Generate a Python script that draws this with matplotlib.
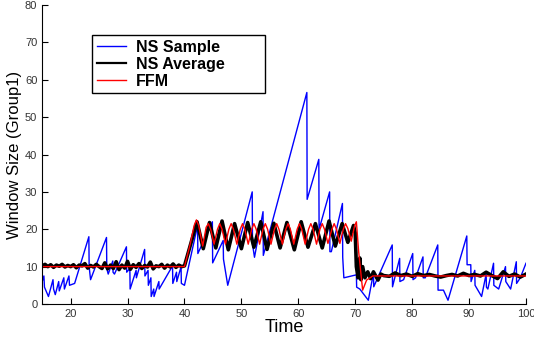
import numpy as np
import matplotlib.pyplot as plt

plt.rcParams['font.family'] = ['Liberation Sans', 'DejaVu Sans']

# NS Sample (sawtooth window), vertices
sample_t = [15.0, 15.3, 15.4, 16.1, 16.9, 17.0, 17.3, 17.9, 18.0, 18.8, 18.9, 19.7, 19.8, 20.7,
            23.2, 23.25, 23.5, 26.3, 26.35, 26.6, 27.4, 27.45, 27.7, 29.8, 29.85, 30.4, 30.45,
            31.5, 31.55, 33.0, 33.05, 33.6, 33.65, 34.1, 34.15, 34.6, 34.65, 35.5, 35.55,
            37.9, 37.95, 38.6, 38.65, 39.4, 39.45, 40.0,
            42.3, 42.35, 44.9, 44.95, 46.8, 46.85, 47.6, 51.9, 51.95, 52.3, 53.8, 53.85,
            61.5, 61.55, 63.6, 63.65, 65.5, 65.55, 65.8, 67.75, 67.8, 68.0, 70.2, 70.25, 70.8,
            72.3, 73.2, 73.25, 76.5, 76.55, 77.8, 77.85, 78.5, 80.1, 80.15, 80.6, 81.9, 81.95,
            82.3, 84.5, 84.55, 85.5, 86.3, 89.6, 89.65, 90.3, 90.35, 91.0, 91.05, 92.2,
            93.0, 93.05, 93.3, 94.3, 94.35, 95.2, 96.4, 96.45, 97.3, 98.3, 98.35, 99.0, 100.0]
sample_w = [6.0, 7.5, 4.5, 2.0, 6.5, 4.0, 2.5, 6.0, 3.5, 7.0, 4.0, 7.5, 5.0, 5.5,
            18.0, 10.0, 6.5, 17.8, 9.5, 8.0, 11.5, 8.5, 8.0, 15.3, 8.5, 9.5, 4.0,
            9.0, 7.0, 14.6, 7.5, 9.0, 5.0, 7.0, 2.0, 4.0, 2.0, 6.0, 4.0,
            10.2, 5.5, 8.5, 6.0, 10.0, 5.5, 5.0,
            21.0, 13.5, 22.0, 11.0, 17.0, 12.0, 5.0, 30.0, 16.0, 12.5, 24.7, 13.0,
            56.6, 28.0, 38.7, 20.0, 30.0, 14.0, 14.0, 26.9, 12.5, 7.0, 7.8, 4.5, 4.0,
            1.0, 8.3, 4.6, 15.8, 4.6, 12.2, 6.0, 6.5, 13.5, 6.5, 7.0, 12.6, 7.0,
            7.0, 15.8, 3.7, 3.7, 1.0, 18.2, 10.5, 10.5, 6.0, 9.0, 5.0, 2.0,
            8.0, 4.5, 4.0, 10.9, 5.0, 4.0, 10.0, 6.0, 4.0, 11.3, 5.5, 7.0, 10.9]

# NS Average
avg_t = [15.0, 15.5, 16.0, 16.5, 17.0, 17.5, 18.0, 18.5, 19.0, 19.5, 20.0, 20.5, 21.0, 21.5,
         22.0, 22.5, 23.0, 23.5, 24.0, 24.5, 25.0, 25.5, 26.0, 26.5, 27.0, 27.5, 28.0, 28.5,
         29.0, 29.5, 30.0, 30.5, 31.0, 31.5, 32.0, 32.5, 33.0, 33.5, 34.0, 34.5, 35.0, 35.5,
         36.0, 36.5, 37.0, 37.5, 38.0, 38.5, 39.0, 39.5, 40.0,
         42.2, 43.3, 44.4, 45.5, 46.6, 47.7, 48.8, 50.0, 51.1, 52.2, 53.4, 54.5, 55.7, 56.8,
         58.0, 59.3, 60.5, 61.7, 63.0, 64.2, 65.4, 66.5, 67.7, 68.7, 69.7, 70.0, 70.2, 70.5,
         70.8, 71.0, 71.3, 71.7, 72.2, 72.7, 73.2, 74.0, 74.5, 75.0, 76.0, 77.0, 78.0, 79.0,
         80.0, 81.0, 82.0, 83.0, 84.0, 85.0, 86.0, 87.0, 88.0, 89.0, 90.0, 91.0, 92.0, 93.0,
         94.0, 95.0, 96.0, 97.0, 98.0, 99.0, 100.0]
avg_w = [10.2, 10.6, 10.0, 10.5, 9.8, 10.4, 10.1, 10.6, 9.9, 10.3, 10.0, 10.5, 9.7, 10.4,
         10.2, 10.8, 9.6, 10.3, 9.9, 10.6, 10.0, 9.5, 11.0, 9.4, 10.4, 9.5, 11.3, 9.2,
         10.4, 9.6, 11.4, 9.3, 10.5, 9.8, 10.8, 9.5, 10.3, 9.9, 11.2, 9.4, 10.2, 10.0,
         10.6, 9.6, 10.4, 9.9, 10.7, 9.8, 10.4, 10.0, 10.2,
         22.0, 14.8, 21.8, 15.0, 22.2, 14.5, 21.5, 14.8, 21.8, 15.2, 22.0, 14.6, 21.6, 15.0,
         21.8, 14.5, 22.0, 15.2, 21.5, 15.0, 22.2, 15.5, 21.5, 16.5, 21.0, 19.0, 10.0, 7.0,
         12.3, 6.5, 10.0, 7.0, 8.6, 6.8, 8.6, 6.4, 8.0, 7.6, 7.4, 8.3, 7.6, 8.0,
         7.4, 8.1, 7.6, 7.9, 7.5, 7.2, 7.6, 7.9, 7.5, 8.2, 7.6, 7.9, 7.5, 8.5,
         7.6, 6.8, 8.6, 7.4, 8.0, 7.2, 8.0]

# FFM (peaks, troughs and shoulders of the oscillation)
ffm_t = [15.0, 40.0, 41.0, 41.7, 42.1, 42.5, 43.2, 43.8, 44.2, 44.6, 45.2, 45.8, 46.2, 46.6,
         47.2, 47.8, 48.2, 48.6, 49.2, 49.8, 50.2, 50.6, 51.2, 51.8, 52.2, 52.6, 53.2, 53.8,
         54.2, 54.6, 55.2, 55.8, 56.2, 56.6, 57.2, 57.8, 58.2, 58.6, 59.2, 59.8, 60.2, 60.6,
         61.2, 61.8, 62.2, 62.6, 63.2, 63.8, 64.2, 64.6, 65.2, 65.9, 66.3, 66.7, 67.3, 67.9,
         68.3, 68.7, 69.3, 69.9, 70.2, 70.6, 71.3, 72.0, 73.1, 100.0]
ffm_w = [10.0, 10.0, 16.0, 21.0, 22.5, 21.0, 15.5, 20.5, 21.5, 20.0, 16.0, 20.0, 21.5, 20.0,
         16.0, 20.0, 21.5, 20.0, 16.0, 20.0, 21.5, 20.0, 16.0, 20.0, 21.5, 20.0, 16.0, 20.0,
         21.5, 20.0, 16.0, 20.0, 21.5, 20.0, 16.0, 20.0, 21.5, 20.0, 16.0, 20.0, 21.5, 20.0,
         16.0, 20.0, 21.5, 20.0, 16.0, 20.0, 21.5, 20.0, 16.2, 20.0, 21.5, 20.0, 16.2, 20.0,
         21.5, 20.2, 16.8, 21.0, 22.0, 14.0, 3.7, 6.4, 7.5, 7.5]

fig = plt.figure(figsize=(5.34, 3.37), dpi=100)
ax = fig.add_axes([0.079, 0.098, 0.906, 0.887])

ax.plot(sample_t, sample_w, color='#0000ff', lw=1, label='NS Sample')
ax.plot(avg_t, avg_w, color='black', lw=2.6, label='NS Average        ')
ax.plot(ffm_t, ffm_w, color='#ff0000', lw=1, label='FFM')

ax.set_xlim(15, 100)
ax.set_ylim(0, 80)
ax.set_xticks([20, 30, 40, 50, 60, 70, 80, 90, 100])
ax.set_yticks([0, 10, 20, 30, 40, 50, 60, 70, 80])
ax.tick_params(direction='in', labelsize=8, labelcolor='#333333', length=4)
ax.spines['top'].set_visible(False)
ax.spines['right'].set_visible(False)

ax.set_xlabel('Time', fontsize=13, labelpad=0)
ax.set_ylabel('Window Size (Group1)', fontsize=12, labelpad=2)

leg = ax.legend(loc='upper left', bbox_to_anchor=(0.103, 0.9), fancybox=False,
                framealpha=1, edgecolor='black', prop={'weight': 'bold', 'size': 11.5},
                handlelength=1.8, handletextpad=0.65, borderpad=0.3, labelspacing=0.12,
                borderaxespad=0)
leg.get_frame().set_linewidth(1)
leg.get_lines()[1].set_linewidth(1.6)

fig.savefig('out.png', dpi=100)
